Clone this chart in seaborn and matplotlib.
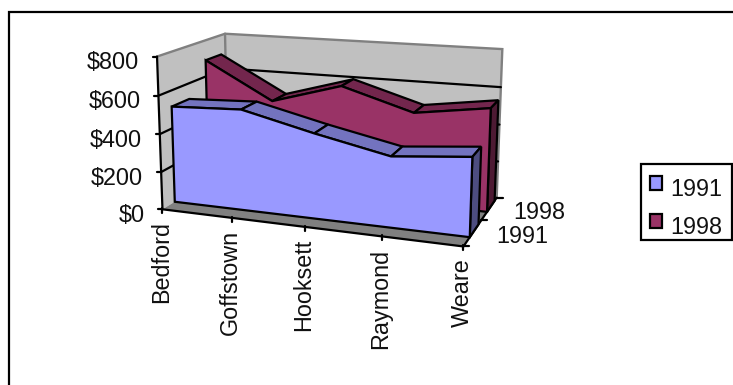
import numpy as np
import matplotlib
matplotlib.use("Agg")
import matplotlib.pyplot as plt
from matplotlib.patches import Polygon, Rectangle
import seaborn as sns

# Property tax figures per town
towns = ["Bedford", "Goffstown", "Hooksett", "Raymond", "Weare"]
years = ["1991", "1998"]
values_1991 = [515, 530, 440, 360, 395]
values_1998 = [690, 490, 600, 487, 542]
y_ticks = [0, 200, 400, 600, 800]
y_tick_labels = ["$0", "$200", "$400", "$600", "$800"]

W, H = 733, 385
Y_MAX = 800

# Screen positions of the eight corners of the plot box (town, depth, value)
BOX = {
    (0, 0, 0): (163.5, 210), (1, 0, 0): (463, 248),
    (1, 1, 0): (497, 196), (0, 1, 0): (227, 169),
    (0, 0, 1): (157, 57), (1, 0, 1): (468, 74),
    (1, 1, 1): (503, 52), (0, 1, 1): (225, 33),
}
rows, rhs = [], []
for (a, b, c), (px, py) in BOX.items():
    rows.append([a, b, c, 1, 0, 0, 0, 0, -px * a, -px * b, -px * c])
    rhs.append(px)
    rows.append([0, 0, 0, 0, a, b, c, 1, -py * a, -py * b, -py * c])
    rhs.append(py)
coef = np.linalg.lstsq(np.array(rows, float), np.array(rhs, float), rcond=None)[0]
CAMERA = np.append(coef, 1.0).reshape(3, 4)


def project(u, v, value):
    """Map town position, depth (0-1) and value to screen pixels."""
    u, v, value = np.broadcast_arrays(*[np.asarray(t, float) for t in (u, v, value)])
    pts = np.stack([u, v, value / Y_MAX, np.ones_like(u)])
    x, y, z = CAMERA @ pts
    return np.column_stack([x / z, y / z])


sns.set_theme(style="white")
plt.rcParams["font.family"] = ["Liberation Sans", "DejaVu Sans"]
FS = 16.8
LW = 1.6

fig = plt.figure(figsize=(W / 100, H / 100), dpi=100)
ax = fig.add_axes([0, 0, 1, 1])


def fill(points, color, z, edge=None, lw=LW):
    ax.add_patch(Polygon(points, closed=True, facecolor=color,
                         edgecolor=edge if edge else "none", linewidth=lw if edge else 0,
                         joinstyle="miter", zorder=z))


def stroke(points, color="black", lw=LW, z=5):
    pts = np.asarray(points)
    sns.lineplot(x=pts[:, 0], y=pts[:, 1], sort=False, estimator=None, color=color,
                 linewidth=lw, ax=ax, legend=False, zorder=z,
                 solid_capstyle="round", solid_joinstyle="miter")


def box_face(a, b, c, d):
    return project(*np.array([a, b, c, d], float).T)


# Walls and floor
fill(box_face((0, 1, 0), (1, 1, 0), (1, 1, Y_MAX), (0, 1, Y_MAX)), "#C0C0C0", 1)
fill(box_face((0, 0, 0), (0, 1, 0), (0, 1, Y_MAX), (0, 0, Y_MAX)), "#C0C0C0", 1)
fill(box_face((0, 0, 0), (1, 0, 0), (1, 1, 0), (0, 1, 0)), "#808080", 1)
stroke(project([0, 0, 1, 1], [0, 1, 1, 1], [Y_MAX, Y_MAX, Y_MAX, 0]), color="#808080", lw=1.7, z=2)
stroke(project([0, 0], [1, 1], [Y_MAX, 0]), color="#808080", lw=1.7, z=2)

# Gridlines run along the left and back walls
for tick in y_ticks[1:-1]:
    stroke(project([0, 0, 1], [0, 1, 1], [tick] * 3), z=2)

# Value axis
stroke(project([0, 0], [0, 0], [0, Y_MAX]), z=3)
for tick, label in zip(y_ticks, y_tick_labels):
    (tx, ty), = project(0, 0, tick)
    stroke([(tx - 4, ty), (tx, ty)], z=3)
    ax.text(tx - 18, ty + 6, label, ha="right", va="center", fontsize=FS, color="#111111")

# Floor edges, town ticks and labels
stroke(project([0, 1, 1], [0, 0, 1], [0, 0, 0]), z=3)
for i, town in enumerate(towns):
    (tx, ty), = project(i / (len(towns) - 1), 0, 0)
    stroke([(tx, ty - 1), (tx, ty + 4)], z=3)
    ax.text(tx - 1, ty + 12, town, rotation=90, ha="center", va="top",
            fontsize=FS, color="#111111")

# Depth ticks and year labels
for depth in (0, 0.5, 1):
    (tx, ty), = project(1, depth, 0)
    stroke([(tx, ty), (tx + 6, ty)], z=3)
for depth, year in zip((0.25, 0.75), years):
    (tx, ty), = project(1, depth, 0)
    ax.text(tx + 24, ty + 4, year, ha="left", va="center", fontsize=FS, color="#111111")


def area_series(values, v_front, v_back, front, top, side, z):
    """Draw one extruded area band: top facets, side face, then front face."""
    u = np.linspace(0, 1, len(values))
    vals = np.asarray(values, float)
    front_top = project(u, v_front, vals)
    back_top = project(u, v_back, vals)
    front_base = project(u, v_front, 0)
    back_base = project(u, v_back, 0)
    for i in range(len(vals) - 1):
        fill([front_top[i], front_top[i + 1], back_top[i + 1], back_top[i]],
             top, z, edge="black")
    fill([front_top[-1], back_top[-1], back_base[-1], front_base[-1]], side, z, edge="black")
    fill(np.vstack([front_top, front_base[::-1]]), front, z + 0.1, edge="black")


area_series(values_1998, 0.68, 0.93, "#993366", "#73264D", "#4D1A33", 4)
area_series(values_1991, 0.17, 0.42, "#9999FF", "#7373BF", "#4D4D80", 6)

# Chart frame, open on the sides that fall off the canvas
stroke([(9, H + 2), (9, 12), (W + 2, 12)], lw=1.6, z=8)

# Legend
ax.add_patch(Rectangle((641, 164), 91, 76, facecolor="white", edgecolor="black",
                       linewidth=LW, zorder=8))
for y_swatch, year, color in zip((176, 214), years, ("#9999FF", "#993366")):
    ax.add_patch(Rectangle((649.5, y_swatch), 12.5, 13.5, facecolor=color, edgecolor="black",
                           linewidth=LW, zorder=9))
    ax.text(670.5, y_swatch + 13.5, year, ha="left", va="center", fontsize=FS,
            color="#111111", zorder=9)

ax.set_xlim(0, W)
ax.set_ylim(H, 0)
ax.axis("off")
fig.savefig("out.png", dpi=100, facecolor="white")
